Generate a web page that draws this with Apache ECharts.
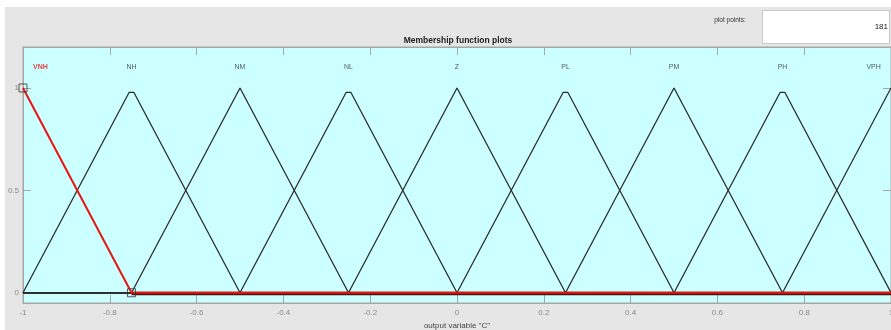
<!DOCTYPE html>
<html>
<head>
<meta charset="utf-8">
<script src="https://cdn.jsdelivr.net/npm/echarts@6/dist/echarts.min.js"></script>
<style>html,body{margin:0;padding:0;background:#fff;overflow:hidden}#c{width:891px;height:330px}</style>
</head>
<body>
<div id="c"></div>
<script>
// ---- data ----
const xTicks = [-1, -0.8, -0.6, -0.4, -0.2, 0, 0.2, 0.4, 0.6, 0.8, 1];
const yTicks = [0, 0.5, 1];
const mfNames = ['VNH', 'NH', 'NM', 'NL', 'Z', 'PL', 'PM', 'PH', 'VPH'];
const labelX = [-0.96, -0.75, -0.5, -0.25, 0, 0.25, 0.5, 0.75, 0.96];
const labelY = 1.1;
const VNH = [[-1, 1], [-0.75, 0], [1, 0]];
const NH = [[-1, 0], [-0.7556, 0.978], [-0.7444, 0.978], [-0.5, 0], [1, 0]];
const NM = [[-1, 0], [-0.75, 0], [-0.5, 1], [-0.25, 0], [1, 0]];
const NL = [[-1, 0], [-0.5, 0], [-0.2556, 0.978], [-0.2444, 0.978], [0, 0], [1, 0]];
const Z = [[-1, 0], [-0.25, 0], [0, 1], [0.25, 0], [1, 0]];
const PL = [[-1, 0], [0, 0], [0.2444, 0.978], [0.2556, 0.978], [0.5, 0], [1, 0]];
const PM = [[-1, 0], [0.25, 0], [0.5, 1], [0.75, 0], [1, 0]];
const PH = [[-1, 0], [0.5, 0], [0.7444, 0.978], [0.7556, 0.978], [1, 0]];
const VPH = [[-1, 0], [0.75, 0], [1, 1]];
const handles = [[-1, 1], [-0.75, 0]];
const plotPoints = '181';
const titleText = 'Membership function plots';
const xName = 'output variable "C"';

// ---- chart ----
const FONT = '"Liberation Sans", Arial, sans-serif';
const chart = echarts.init(document.getElementById('c'), null, {renderer: 'canvas'});
const blackMFs = [NH, NM, NL, Z, PL, PM, PH, VPH];
const axisCol = '#a6a6a6';
const lblCol = '#8a8a8a';

const series = blackMFs.map(d => ({
  type: 'line', data: d, symbol: 'none', silent: true, animation: false,
  lineStyle: {color: '#2e2e2e', width: 1.3}, z: 3
}));
// dark overlap of the black zero segments beneath the selected (red) function
series[0].markLine = {
  silent: true, symbol: 'none', animation: false, label: {show: false},
  lineStyle: {color: '#4a1212', width: 3.4, type: 'solid'},
  data: [[{coord: VNH[1]}, {coord: VNH[2]}]]
};
series.push({
  type: 'line', data: VNH, symbol: 'none', silent: true, animation: false,
  lineStyle: {color: '#ea1410', width: 2}, z: 5
});
series.push({
  type: 'scatter', data: handles, symbol: 'rect', symbolSize: 8, animation: false,
  itemStyle: {color: 'rgba(0,0,0,0)', borderColor: '#333', borderWidth: 1}, z: 6
});
series.push({
  type: 'scatter', symbolSize: 0, animation: false,
  data: mfNames.map((n, i) => ({
    value: [labelX[i], labelY], name: n,
    label: {
      show: true, position: 'inside', formatter: n, fontFamily: FONT, fontSize: 7,
      color: i === 0 ? '#e8140f' : '#333', fontWeight: i === 0 ? 'bold' : 'normal'
    }
  })),
  z: 6
});

chart.setOption({
  backgroundColor: '#e6e6e6',
  animation: false,
  grid: {left: 23, top: 47, width: 868, height: 256, outerBoundsMode: 'none', containLabel: false, show: true, backgroundColor: '#ccffff', borderColor: axisCol, borderWidth: 1},
  xAxis: [{
    type: 'value', min: -1, max: 1, interval: 0.2, position: 'bottom',
    name: xName, nameLocation: 'middle', nameGap: 19,
    nameTextStyle: {fontFamily: FONT, fontSize: 8, color: '#444'},
    axisLine: {show: true, onZero: false, lineStyle: {color: axisCol}},
    axisTick: {show: true, inside: true, length: 8, lineStyle: {color: axisCol}, customValues: xTicks},
    axisLabel: {fontFamily: FONT, fontSize: 8, color: lblCol, margin: 6, customValues: xTicks, formatter: v => String(+(+v).toFixed(1))},
    splitLine: {show: false}
  }, {
    type: 'value', min: -1, max: 1, interval: 0.2, position: 'top',
    axisLine: {show: true, onZero: false, lineStyle: {color: axisCol}},
    axisTick: {show: true, inside: true, length: 8, lineStyle: {color: axisCol}, customValues: xTicks},
    axisLabel: {show: false}, splitLine: {show: false}
  }],
  yAxis: [{
    type: 'value', min: -0.05, max: 1.2, position: 'left',
    axisLine: {show: true, onZero: false, lineStyle: {color: axisCol}},
    axisTick: {show: true, inside: true, length: 8, lineStyle: {color: axisCol}, customValues: yTicks},
    axisLabel: {fontFamily: FONT, fontSize: 8, color: lblCol, margin: 4, customValues: yTicks, formatter: v => String(+(+v).toFixed(1))},
    splitLine: {show: false}
  }, {
    type: 'value', min: -0.05, max: 1.2, position: 'right',
    axisLine: {show: true, onZero: false, lineStyle: {color: axisCol}},
    axisTick: {show: true, inside: true, length: 8, lineStyle: {color: axisCol}, customValues: yTicks},
    axisLabel: {show: false}, splitLine: {show: false}
  }],
  graphic: [
    {type: 'rect', shape: {x: 0, y: 0, width: 891, height: 7}, style: {fill: '#ffffff'}, silent: true},
    {type: 'rect', shape: {x: 0, y: 0, width: 5, height: 330}, style: {fill: '#ffffff'}, silent: true},
    {type: 'rect', shape: {x: 762.5, y: 10.5, width: 127, height: 33}, style: {fill: '#ffffff', stroke: '#c8c8c8', lineWidth: 1}, silent: true},
    {type: 'text', x: 888, y: 27, style: {text: plotPoints, fontFamily: FONT, fontSize: 8, fill: '#222', textAlign: 'right', textVerticalAlign: 'middle'}},
    {type: 'text', x: 730, y: 20, style: {text: 'plot points:', fontFamily: FONT, fontSize: 6.5, fill: '#333', textAlign: 'center', textVerticalAlign: 'middle'}},
    {type: 'text', x: 458, y: 41, style: {text: titleText, fontFamily: FONT, fontSize: 8.5, fontWeight: 'bold', fill: '#222', textAlign: 'center', textVerticalAlign: 'middle'}}
  ],
  series: series
});
</script>
</body>
</html>
